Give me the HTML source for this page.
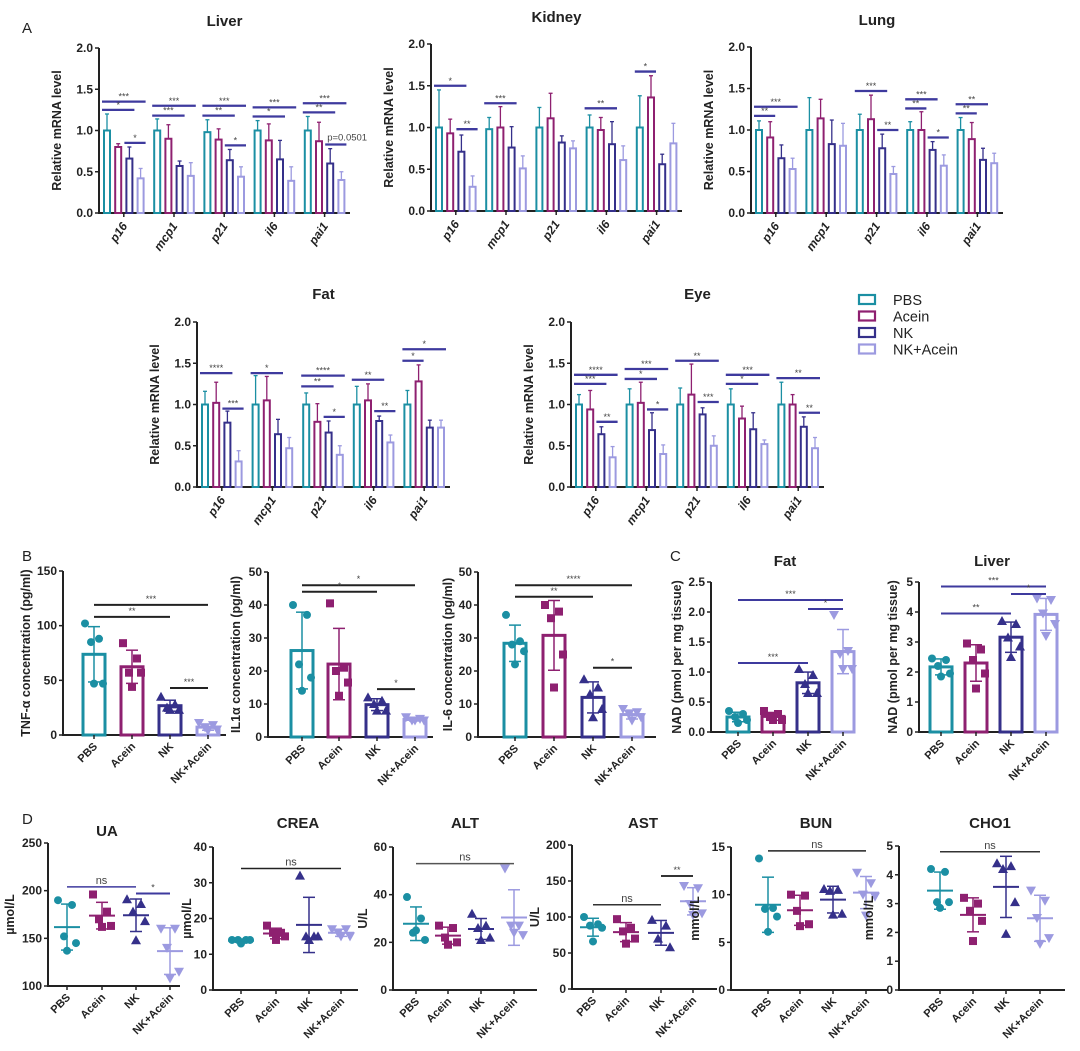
<!DOCTYPE html>
<html><head><meta charset="utf-8">
<style>
html,body{margin:0;padding:0;background:#fff;}
svg{display:block;font-family:"Liberation Sans",Arial,sans-serif;}
</style></head>
<body>
<svg id="fig" width="1080" height="1051" viewBox="0 0 1080 1051" xmlns="http://www.w3.org/2000/svg"></svg>
<script>
// ---------- DATA ----------
const genes = ["p16","mcp1","p21","il6","pai1"];
const groups = ["PBS","Acein","NK","NK+Acein"];
const mrnaTicks = [0,0.5,1,1.5,2];

const liverMeans = [[1.0,0.8,0.66,0.42],[1.0,0.9,0.57,0.45],[0.98,0.89,0.64,0.44],[1.0,0.88,0.65,0.39],[1.0,0.87,0.6,0.4]];
const liverErr   = [[1.2,0.84,0.8,0.54],[1.14,1.07,0.63,0.61],[1.13,1.02,0.77,0.56],[1.12,1.08,0.88,0.56],[1.17,1.1,0.78,0.5]];
const liverSig   = [[0,0,3,1.35,"***"],[0,0,2,1.25,"*"],[0,2,3,0.85,"*"],[1,0,3,1.3,"***"],[1,0,2,1.18,"***"],[2,0,3,1.3,"***"],[2,0,2,1.18,"**"],[2,2,3,0.82,"*"],[3,0,3,1.28,"***"],[3,0,2,1.17,"*"],[4,0,3,1.33,"***"],[4,0,2,1.22,"**"],[4,2,3,0.83,"p=0.0501"]];

const kidneyMeans = [[1.0,0.93,0.71,0.29],[0.98,1.0,0.76,0.51],[1.0,1.11,0.82,0.75],[1.0,0.97,0.8,0.61],[1.0,1.36,0.56,0.81]];
const kidneyErr   = [[1.45,1.1,0.91,0.42],[1.12,1.25,1.01,0.66],[1.24,1.41,0.9,0.84],[1.15,1.12,1.07,0.78],[1.38,1.62,0.68,1.05]];
const kidneySig   = [[0,0,2,1.5,"*"],[0,2,3,0.98,"**"],[1,0,2,1.29,"***"],[3,0,2,1.23,"**"],[4,0,1,1.67,"*"]];

const lungMeans = [[1.0,0.91,0.66,0.53],[1.0,1.14,0.83,0.81],[1.0,1.13,0.78,0.47],[1.0,1.0,0.76,0.57],[1.0,0.89,0.64,0.6]];
const lungErr   = [[1.11,1.1,0.82,0.66],[1.39,1.37,1.12,1.08],[1.19,1.42,0.95,0.56],[1.1,1.22,0.86,0.7],[1.15,1.09,0.78,0.72]];
const lungSig   = [[0,0,3,1.28,"***"],[0,0,1,1.17,"**"],[2,0,2,1.47,"***"],[2,2,3,1.0,"**"],[3,0,2,1.37,"***"],[3,0,1,1.26,"**"],[3,2,3,0.91,"*"],[4,0,2,1.31,"**"],[4,0,1,1.2,"**"]];

const fatMeans = [[1.0,1.02,0.78,0.31],[1.0,1.05,0.64,0.47],[1.0,0.79,0.66,0.39],[1.0,1.05,0.8,0.54],[1.0,1.28,0.72,0.72]];
const fatErr   = [[1.16,1.27,0.92,0.44],[1.35,1.34,0.82,0.6],[1.14,1.01,0.8,0.5],[1.22,1.25,0.86,0.63],[1.17,1.48,0.81,0.81]];
const fatSig   = [[0,0,2,1.38,"****"],[0,2,3,0.95,"***"],[1,0,2,1.38,"*"],[2,0,3,1.35,"****"],[2,0,2,1.22,"**"],[2,2,3,0.85,"*"],[3,0,2,1.3,"**"],[3,2,3,0.92,"**"],[4,0,3,1.67,"*"],[4,0,1,1.53,"*"]];

const eyeMeans = [[1.0,0.94,0.64,0.36],[1.0,1.02,0.69,0.4],[1.0,1.12,0.88,0.5],[1.0,0.83,0.7,0.52],[1.0,1.0,0.73,0.47]];
const eyeErr   = [[1.12,1.17,0.73,0.49],[1.19,1.27,0.9,0.51],[1.2,1.49,0.96,0.62],[1.19,0.98,0.9,0.57],[1.27,1.12,0.85,0.6]];
const eyeSig   = [[0,0,3,1.36,"****"],[0,0,2,1.25,"***"],[0,2,3,0.79,"**"],[1,0,3,1.43,"***"],[1,0,2,1.31,"*"],[1,2,3,0.94,"*"],[2,0,3,1.53,"**"],[2,2,3,1.03,"***"],[3,0,3,1.36,"***"],[3,0,2,1.25,"*"],[4,0,3,1.32,"**"],[4,2,3,0.9,"**"]];

// Panel B
const tnfPts  = [[102,88,85,47,47],[84,70,57,57,44],[35,28,25,23,23],[11,9,7,5,4]];
const tnfTicks = [0,50,100,150];
const tnfSig = [[0,3,119,"***"],[0,2,108,"**"],[2,3,43,"***"]];
const il1Pts  = [[40,37,22,18,14],[40.5,21,20,16.5,12.5],[12,11,10,8,8],[6,5.5,5,5,5]];
const il1Ticks = [0,10,20,30,40,50];
const il1Sig = [[0,3,46,"*"],[0,2,44,"*"],[2,3,14.5,"*"]];
const il6Pts  = [[37,29,28,26,22],[40,38,36,25,15],[17.5,15,13,8.5,6],[8.5,7.5,7,6,5]];
const il6Ticks = [0,10,20,30,40,50];
const il6Sig = [[0,3,46,"****"],[0,2,42.5,"**"],[2,3,21,"*"]];
// Panel C
const nadFatPts = [[0.35,0.3,0.25,0.2,0.15],[0.35,0.3,0.25,0.2,0.2],[1.05,0.95,0.8,0.65,0.65],[1.95,1.35,1.3,1.05,1.05]];
const nadFatTicks = [0,0.5,1,1.5,2,2.5];
const nadFatSig = [[0,3,2.2,"***"],[2,3,2.05,"*"],[0,2,1.15,"***"]];
const nadLivPts = [[2.45,2.4,2.2,1.95,1.85],[2.95,2.75,2.4,1.95,1.45],[3.7,3.6,3.15,2.85,2.5],[4.45,4.4,3.95,3.6,3.2]];
const nadLivTicks = [0,1,2,3,4,5];
const nadLivSig = [[0,3,4.85,"***"],[2,3,4.6,"*"],[0,2,3.95,"**"]];
// Panel D
const uaPts = [[190,185,152,145,137],[196,178,170,163,162],[191,186,178,168,148],[160,160,140,115,108]];
const uaTicks = [100,150,200,250];
const uaSig = [[0,2,204,"ns"],[2,3,197,"*"]];
const creaPts = [[14,14,14,14,13],[18,16,16,15,14],[32,15,15,15,14],[17,17,16,15,15]];
const creaTicks = [0,10,20,30,40];
const creaSig = [[0,3,34,"ns"]];
const altPts = [[39,30,24,21,25],[27,26,22,20,19],[32,27,26,22,21],[51,27,27,23,24]];
const altTicks = [0,20,40,60];
const altSig = [[0,3,53,"ns"]];
const astPts = [[100,90,88,85,66],[97,85,80,70,63],[96,88,70,58],[143,140,118,105,103]];
const astTicks = [0,50,100,150,200];
const astSig = [[0,2,117,"ns"],[2,3,157,"**"]];
const bunPts = [[13.8,8.6,8.5,7.7,6.1],[10,9.9,8.3,6.9,6.7],[10.6,10.5,10.4,8,7.9],[12.3,11.2,10,9.8,7.8]];
const bunTicks = [0,5,10,15];
const bunSig = [[0,3,14.6,"ns"]];
const choPts = [[4.2,4.1,3.05,3.05,2.85],[3.2,3.0,2.75,2.4,1.7],[4.4,4.3,4.2,3.05,1.95],[3.45,3.1,2.5,1.8,1.6]];
const choTicks = [0,1,2,3,4,5];
const choSig = [[0,3,4.8,"ns"]];

// ---------- STYLE ----------
const COLORS = ["#1b8fa3","#8e2070","#35308a","#9c9ae0"];
const SIGC = "#3e3a9e";
const NS = "http://www.w3.org/2000/svg";
const svg = document.getElementById("fig");
function el(tag, attrs, parent){
  const e = document.createElementNS(NS, tag);
  for (const k in attrs) e.setAttribute(k, attrs[k]);
  (parent||svg).appendChild(e);
  return e;
}
function txt(s, attrs, parent){ const t = el("text", attrs, parent); t.textContent = s; return t; }
function fmtTick(v, ticks){ return ticks.some(t=>t%1!==0) ? v.toFixed(1) : String(v); }
function mean(a){ return a.reduce((s,v)=>s+v,0)/a.length; }
function sd(a){ const m=mean(a); return Math.sqrt(a.reduce((s,v)=>s+(v-m)*(v-m),0)/(a.length-1)); }

function yAxis(g, x0, x1, yT, yB, ticks, title, titleDx){
  const min = ticks[0], max = ticks[ticks.length-1];
  const y = v => yB - (v-min)/(max-min)*(yB-yT);
  const ax = el("line",{x1:x0,y1:yT,x2:x0,y2:yB+1,stroke:"#222","stroke-width":2},g);
  
  
  const bx = el("line",{x1:x0-1,y1:yB,x2:x1,y2:yB,stroke:"#222","stroke-width":2},g);
  
  
  ticks.forEach(t=>{
    el("line",{x1:x0-4,y1:y(t),x2:x0,y2:y(t),stroke:"#222","stroke-width":1.5},g);
    const lb = txt(fmtTick(t,ticks),{x:x0-6,y:y(t)+4,"text-anchor":"end","font-size":12,"font-weight":"bold",fill:"#222"},g);
    
    
  });
  const yt = txt(title,{x:0,y:0,"text-anchor":"middle","font-size":12.5,"font-weight":"bold",fill:"#222",transform:`translate(${x0-titleDx},${(yT+yB)/2}) rotate(-90)`},g);
  
  
  return y;
}

function mrnaPanel(name, title, x0, x1, yT, yB, means, errs, sigs, titleY){
  const g = el("g",{});
  
  
  const tt = txt(title,{x:(x0+x1)/2,y:titleY,"text-anchor":"middle","font-size":15,"font-weight":"bold",fill:"#222"},g);
  
  
  const y = yAxis(g,x0,x1,yT,yB,mrnaTicks,"Relative mRNA level",38);
  const gw = (x1-x0)/genes.length;
  const bx = (gi,i)=> x0 + gi*gw + 8 + i*11.2;
  genes.forEach((gene,gi)=>{
    for(let i=0;i<4;i++){
      const cx = bx(gi,i), c = COLORS[i];
      const e = el("line",{x1:cx,y1:y(means[gi][i]),x2:cx,y2:y(errs[gi][i]),stroke:c,"stroke-width":1.3},g);
      
      
      el("line",{x1:cx-2,y1:y(errs[gi][i]),x2:cx+2,y2:y(errs[gi][i]),stroke:c,"stroke-width":1.3},g);
      const r = el("rect",{x:cx-3,y:y(means[gi][i]),width:6,height:yB-y(means[gi][i]),fill:"#fff",stroke:c,"stroke-width":2},g);
      
      
    }
    const cx = (bx(gi,0)+bx(gi,3))/2;
    el("line",{x1:cx,y1:yB,x2:cx,y2:yB+4,stroke:"#222","stroke-width":1.5},g);
    const lb = txt(gene,{x:0,y:0,"text-anchor":"end","font-size":12,"font-weight":"bold","font-style":"italic",fill:"#222",transform:`translate(${cx+4},${yB+13}) rotate(-55)`},g);
    
    
  });
  sigs.forEach(s=>{
    const [gi,a,b,v,label] = s;
    const xa = bx(gi,a)-5, xb = bx(gi,b)+5, yy = y(v);
    const l = el("line",{x1:xa,y1:yy,x2:xb,y2:yy,stroke:SIGC,"stroke-width":2.3},g);
    
    
    const t = txt(label,{x:label.length>4?xa+2:(xa+xb)/2,y:yy-(label.length>4?4:2),"text-anchor":label.length>4?"start":"middle","font-size":label.length>4?9.5:9,fill:"#444"},g);
    
    
  });
}

const JIT = [-9,5,-3,9,0];
function marker(g, shape, x, y, c){
  let m;
  if(shape===0) m = el("circle",{cx:x,cy:y,r:4,fill:c},g);
  else if(shape===1) m = el("rect",{x:x-4,y:y-4,width:8,height:8,fill:c},g);
  else if(shape===2) m = el("polygon",{points:`${x},${y-5} ${x-5},${y+4} ${x+5},${y+4}`,fill:c},g);
  else m = el("polygon",{points:`${x},${y+5} ${x-5},${y-4} ${x+5},${y-4}`,fill:c},g);
  
  
}

function dotPanel(name, title, titleX, titleY, x0, x1, yT, yB, cats, ticks, pts, sigs, ytitle, tdx, mode, sigColor){
  const g = el("g",{});
  
  
  if(title){
    const tt = txt(title,{x:titleX,y:titleY,"text-anchor":"middle","font-size":15,"font-weight":"bold",fill:"#222"},g);
    
    
  }
  const y = yAxis(g,x0,x1,yT,yB,ticks,ytitle,tdx);
  pts.forEach((arr,i)=>{
    const cx = cats[i], c = COLORS[i], m = mean(arr), s = sd(arr);
    if(mode==="bar"){
      const r = el("rect",{x:cx-11,y:y(m),width:22,height:yB-y(m),fill:"#fff",stroke:c,"stroke-width":3},g);
      
      
      arr.forEach((v,k)=>marker(g,i,cx+JIT[k],y(v),c));
      el("line",{x1:cx,y1:y(m-s),x2:cx,y2:y(m+s),stroke:c,"stroke-width":1.5},g);
      el("line",{x1:cx-6,y1:y(m+s),x2:cx+6,y2:y(m+s),stroke:c,"stroke-width":1.5},g);
      el("line",{x1:cx-6,y1:y(m-s),x2:cx+6,y2:y(m-s),stroke:c,"stroke-width":1.5},g);
    } else {
      arr.forEach((v,k)=>marker(g,i,cx+JIT[k],y(v),c));
      const ml = el("line",{x1:cx-13,y1:y(m),x2:cx+13,y2:y(m),stroke:c,"stroke-width":2},g);
      
      
      el("line",{x1:cx,y1:y(m-s),x2:cx,y2:y(m+s),stroke:c,"stroke-width":1.5},g);
      el("line",{x1:cx-6,y1:y(m+s),x2:cx+6,y2:y(m+s),stroke:c,"stroke-width":1.5},g);
      el("line",{x1:cx-6,y1:y(m-s),x2:cx+6,y2:y(m-s),stroke:c,"stroke-width":1.5},g);
    }
    el("line",{x1:cx,y1:yB,x2:cx,y2:yB+4,stroke:"#222","stroke-width":1.5},g);
    const lb = txt(groups[i],{x:0,y:0,"text-anchor":"end","font-size":11,"font-weight":"bold",fill:"#222",transform:`translate(${cx+4},${yB+12}) rotate(-45)`},g);
    
    
  });
  sigs.forEach(s=>{
    const [a,b,v,label] = s;
    const xa = cats[a], xb = cats[b], yy = y(v);
    const l = el("line",{x1:xa,y1:yy,x2:xb,y2:yy,stroke:sigColor,"stroke-width":label==="ns"?1.5:2},g);
    
    
    const t = txt(label,{x:(xa+xb)/2,y:yy-3,"text-anchor":"middle","font-size":label==="ns"?11:9,fill:"#444"},g);
    
    
  });
}

// ---------- PANEL A ----------
mrnaPanel("liver","Liver",99,350,48,213,liverMeans,liverErr,liverSig,26);
mrnaPanel("kidney","Kidney",431,682,44,211,kidneyMeans,kidneyErr,kidneySig,22);
mrnaPanel("lung","Lung",751,1003,47,213,lungMeans,lungErr,lungSig,25);
mrnaPanel("fat","Fat",197,450,322,487,fatMeans,fatErr,fatSig,299);
mrnaPanel("eye","Eye",571,824,322,487,eyeMeans,eyeErr,eyeSig,299);

// legend
const leg = el("g",{});


groups.forEach((gname,i)=>{
  const yy = 300 + i*16.5;
  const r = el("rect",{x:859,y:yy-5,width:16,height:9,fill:"#fff",stroke:COLORS[i],"stroke-width":2.2},leg);
  
  
  const t = txt(gname,{x:893,y:yy+5,"font-size":14.5,fill:"#222"},leg);
  
  
});

// panel letters
[["A",22,33],["B",22,561],["C",670,561],["D",22,824]].forEach(p=>{
  const t = txt(p[0],{x:p[1],y:p[2],"font-size":15,fill:"#222"});
  
  
});

// ---------- PANEL B ----------
dotPanel("tnf",null,0,0,63,226,571,735,[94,132,170,208],tnfTicks,tnfPts,tnfSig,"TNF-α concentration (pg/ml)",33,"bar","#222");
dotPanel("il1a",null,0,0,268,433,572,737,[302,339,377,415],il1Ticks,il1Pts,il1Sig,"IL1α concentration (pg/ml)",28,"bar","#222");
dotPanel("il6",null,0,0,478,656,572,737,[515,554,593,632],il6Ticks,il6Pts,il6Sig,"IL-6 concentration (pg/ml)",26,"bar","#222");
// ---------- PANEL C ----------
dotPanel("nad-fat","Fat",785,566,711,855,582,732,[738,773,808,843],nadFatTicks,nadFatPts,nadFatSig,"NAD (pmol per mg tissue)",30,"bar",SIGC);
dotPanel("nad-liver","Liver",992,566,919,1058,582,732,[941,976,1011,1046],nadLivTicks,nadLivPts,nadLivSig,"NAD (pmol per mg tissue)",22,"bar",SIGC);
// ---------- PANEL D ----------
dotPanel("ua","UA",107,836,48,180,843,986,[67,102,136,170],uaTicks,uaPts,uaSig,"µmol/L",34,"dot",SIGC);
dotPanel("crea","CREA",298,828,213,358,847,990,[241,276,309,341],creaTicks,creaPts,creaSig,"µmol/L",22,"dot","#222");
dotPanel("alt","ALT",465,828,393,537,847,990,[416,448,481,514],altTicks,altPts,altSig,"U/L",26,"dot","#555");
dotPanel("ast","AST",643,828,572,717,845,989,[593,626,661,693],astTicks,astPts,astSig,"U/L",33,"dot","#333");
dotPanel("bun","BUN",816,828,731,888,847,990,[768,800,833,866],bunTicks,bunPts,bunSig,"mmol/L",32,"dot","#222");
dotPanel("cho1","CHO1",990,828,899,1065,846,990,[940,973,1006,1040],choTicks,choPts,choSig,"mmol/L",26,"dot","#333");
</script>
</body></html>
